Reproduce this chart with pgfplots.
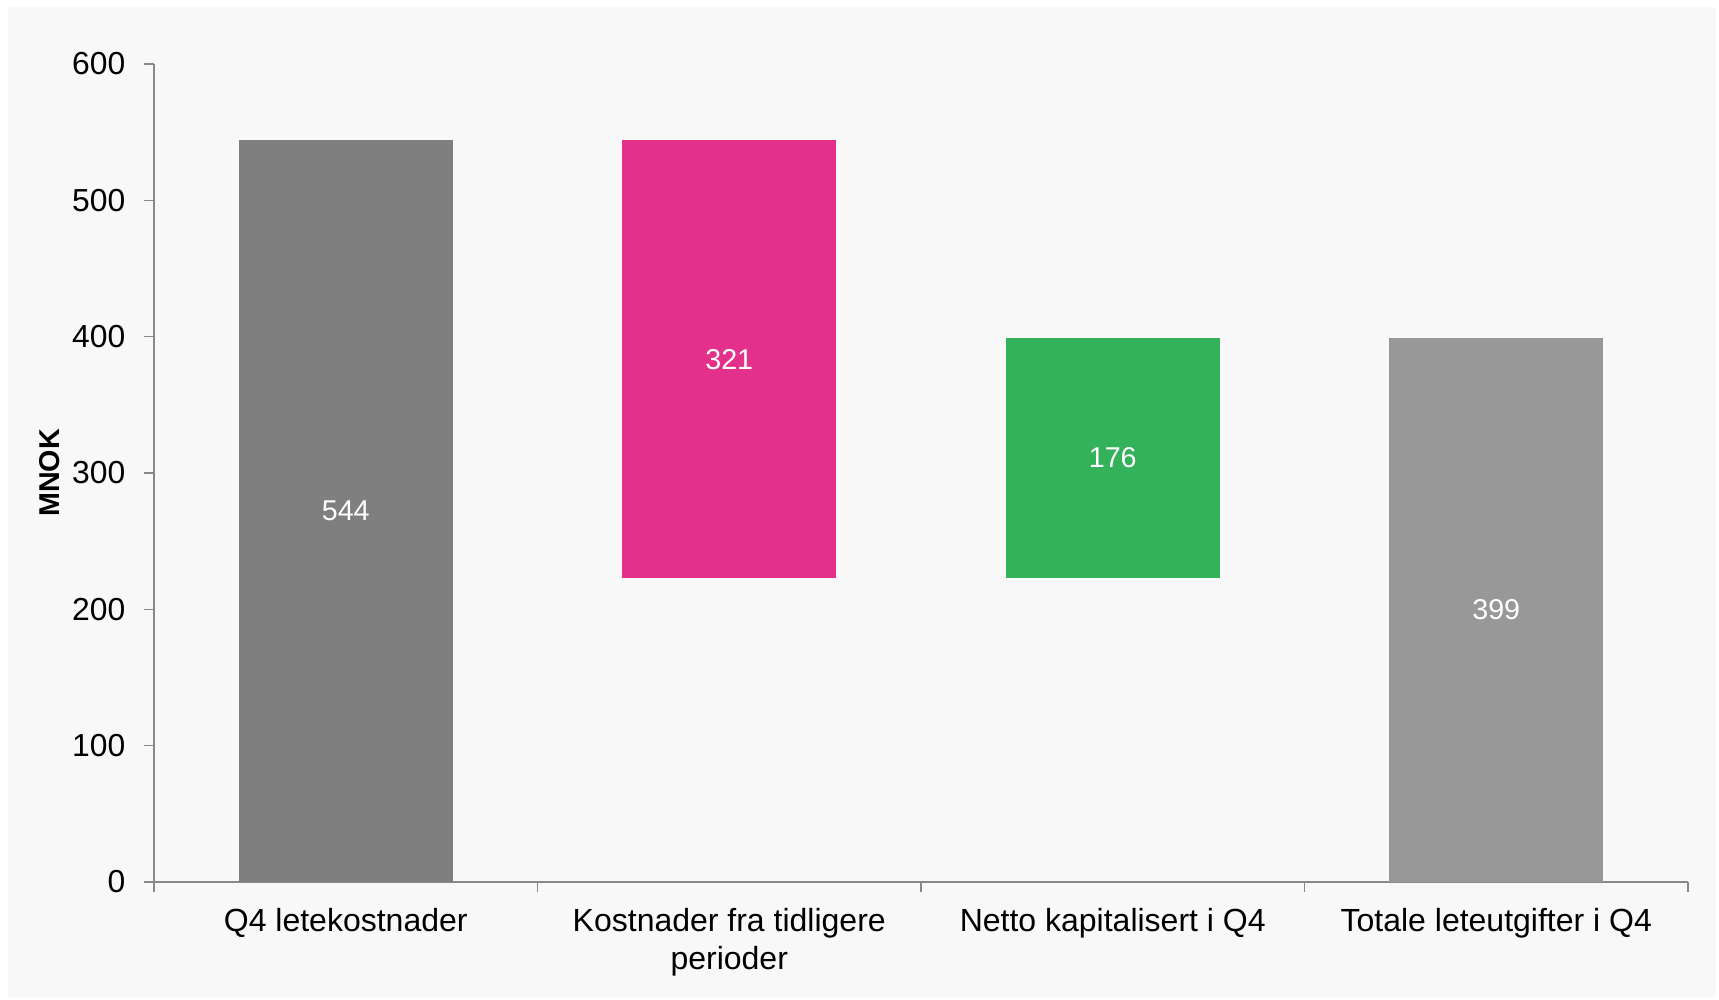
\documentclass[border=0pt]{standalone}
\usepackage{pgfplots}
\pgfplotsset{compat=1.18}
\usepackage{fontspec}
\setmainfont{Liberation Sans}
\definecolor{bg}{HTML}{F8F8F8}
\definecolor{axgray}{HTML}{888888}
\definecolor{cA}{HTML}{7F7F7F}
\definecolor{cB}{HTML}{E3318B}
\definecolor{cC}{HTML}{33B15B}
\definecolor{cD}{HTML}{989898}
\begin{document}
\begin{tikzpicture}
\path[use as bounding box] (0,0) rectangle (515.7pt,299.7pt);
\fill[bg] (2.4pt,0.6pt) rectangle (514.8pt,297.6pt);
\begin{axis}[
  at={(46.2pt,35.1pt)}, anchor=south west,
  scale only axis, width=460.2pt, height=245.4pt,
  ybar stacked, bar width=64.2pt,
  xmin=-0.5, xmax=3.5, ymin=0, ymax=600,
  axis x line*=bottom, axis y line*=left,
  axis line style={axgray, line width=0.4pt},
  every tick/.style={axgray, line width=0.4pt},
  tick align=outside, major tick length=3pt,
  xtick={-0.5,0.5,1.5,2.5,3.5},
  x tick label as interval,
  xticklabels={Q4 letekostnader, {Kostnader fra tidligere\\perioder}, Netto kapitalisert i Q4, Totale leteutgifter i Q4},
  xticklabel style={font=\fontsize{9.6}{11.2}\selectfont, align=center, inner sep=0pt, anchor=north, yshift=-4.8pt},
  ytick={0,100,...,600},
  yticklabel style={font=\fontsize{9.55}{11}\selectfont, inner sep=0pt, anchor=east, xshift=-5.4pt},
  /pgf/number format/assume math mode=true,
  ylabel={MNOK},
  ylabel style={font=\fontsize{8.6}{10}\selectfont\bfseries, at={(axis description cs:-0.0678,0.5)}, anchor=center},
]
\addplot[draw=none, fill=none] coordinates {(0,0) (1,223) (2,223) (3,0)};
\addplot[draw=none, fill=cA] coordinates {(0,544) (1,0) (2,0) (3,0)};
\addplot[draw=none, fill=cB] coordinates {(0,0) (1,321) (2,0) (3,0)};
\addplot[draw=none, fill=cC] coordinates {(0,0) (1,0) (2,176) (3,0)};
\addplot[draw=none, fill=cD] coordinates {(0,0) (1,0) (2,0) (3,399)};
\coordinate (vA) at (axis cs:0,272);
\coordinate (vB) at (axis cs:1,383.5);
\coordinate (vC) at (axis cs:2,311);
\coordinate (vD) at (axis cs:3,199.5);
\end{axis}
\begin{scope}[every node/.style={text=white, font=\fontsize{8.6}{10}\selectfont}]
\node at (vA) {544};
\node at (vB) {321};
\node at (vC) {176};
\node at (vD) {399};
\end{scope}
\end{tikzpicture}
\end{document}
